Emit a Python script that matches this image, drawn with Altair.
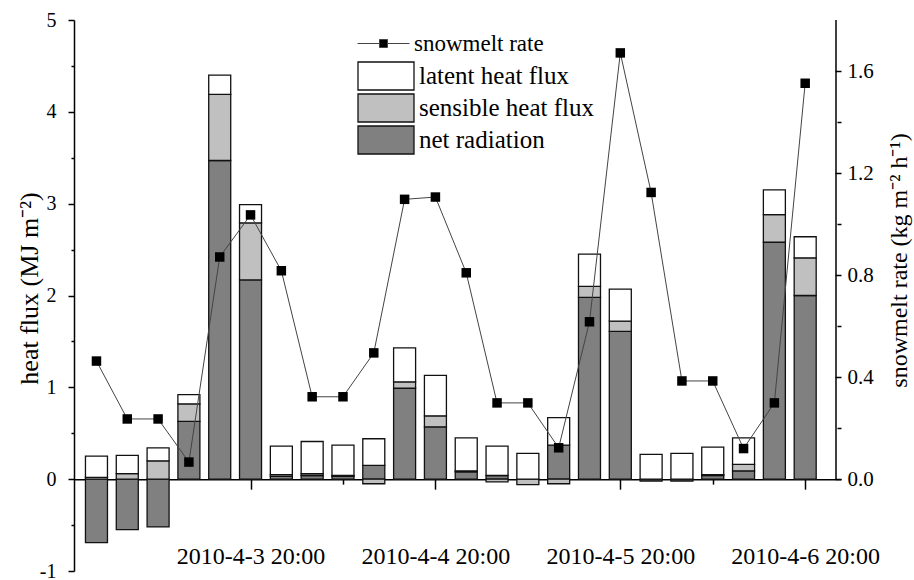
import altair as alt
import pandas as pd

# ---------------- data ----------------
times = list(pd.date_range("2010-04-03 00:00", periods=24, freq="4h").strftime("%Y-%m-%dT%H:%M:00Z"))
net_radiation = [-0.69, -0.55, -0.52, 0.63, 3.47, 2.17, 0.03, 0.04, 0.03, 0.15, 0.99, 0.57,
                 0.08, 0.04, 0.00, 0.37, 1.98, 1.61, -0.02, -0.02, 0.04, 0.09, 2.58, 2.00]
sensible_heat = [0.02, 0.06, 0.20, 0.19, 0.72, 0.62, 0.02, 0.02, 0.01, -0.05, 0.07, 0.12,
                 0.01, -0.03, -0.06, -0.05, 0.12, 0.11, 0.00, 0.00, 0.01, 0.07, 0.30, 0.41]
latent_heat = [0.23, 0.20, 0.14, 0.10, 0.21, 0.20, 0.31, 0.35, 0.33, 0.29, 0.37, 0.44,
               0.36, 0.32, 0.28, 0.30, 0.35, 0.35, 0.27, 0.28, 0.30, 0.29, 0.27, 0.23]
snowmelt_rate = [0.463, 0.236, 0.236, 0.067, 0.871, 1.036, 0.817, 0.323, 0.323, 0.495, 1.097, 1.106,
                 0.809, 0.299, 0.299, 0.123, 0.617, 1.671, 1.124, 0.385, 0.385, 0.120, 0.299, 1.552]

components = ["latent heat flux", "sensible heat flux", "net radiation"]
component_colors = ["#ffffff", "#c0c0c0", "#808080"]
stack_rank = {"net radiation": 0, "sensible heat flux": 1, "latent heat flux": 2}

left_ticks = [-1, 0, 1, 2, 3, 4, 5]
left_minor = [-0.5, 0.5, 1.5, 2.5, 3.5, 4.5]
right_ticks = [0.0, 0.4, 0.8, 1.2, 1.6]
right_minor = [0.2, 0.6, 1.0, 1.4]
L_DOMAIN = [-1, 5]
R_DOMAIN = [-0.36, 1.8]

FONT = "Liberation Serif"
W, H = 767, 551
ZERO_OFFSET = -H * (0 - L_DOMAIN[0]) / (L_DOMAIN[1] - L_DOMAIN[0])

rows = []
for i, t in enumerate(times):
    for name, series in (("net radiation", net_radiation),
                         ("sensible heat flux", sensible_heat),
                         ("latent heat flux", latent_heat)):
        rows.append({"time": t, "component": name, "value": series[i], "ord": stack_rank[name]})
bars_df = pd.DataFrame(rows)
snow_df = pd.DataFrame({"time": times, "snow": snowmelt_rate, "series": "snowmelt rate"})
axis_df = pd.DataFrame({"a": [0]})


def dt(d, h, m=0):
    return alt.DateTime(year=2010, month=4, date=d, hours=h, minutes=m, utc=True)


major_x = [dt(3, 20), dt(4, 20), dt(5, 20), dt(6, 20)]
minor_x = [dt(3, 8), dt(4, 8), dt(5, 8), dt(6, 8)]
xscale = alt.Scale(type="utc", domain=[dt(2, 21, 44), dt(7, 0)])
lscale = alt.Scale(domain=L_DOMAIN, nice=False, zero=False)
rscale = alt.Scale(domain=R_DOMAIN, nice=False, zero=False)

bars = alt.Chart(bars_df).mark_bar(size=22, stroke="#111111", strokeWidth=1.3).encode(
    x=alt.X("time:T", scale=xscale, axis=alt.Axis(
        values=major_x, labelExpr="utcFormat(datum.value, '%Y-%-m-%-d %H:%M')",
        orient="bottom", offset=ZERO_OFFSET, tickSize=10, tickWidth=1.5, tickColor="black",
        domainColor="black", domainWidth=1.5, labelPadding=55, labelFontSize=24,
        labelFont=FONT, labelColor="black", grid=False, title=None, labelFlush=False,
        labelOverlap=False)),
    y=alt.Y("value:Q", stack="zero", scale=lscale, axis=alt.Axis(
        orient="left", values=left_ticks,
        labelExpr="datum.value < 0 ? '-' + abs(datum.value) : '' + datum.value",
        tickSize=6, tickWidth=1.5, tickColor="black", domainColor="black", domainWidth=1.5,
        labelPadding=12, labelFontSize=20, labelFont=FONT, labelColor="black", grid=False,
        title="heat flux (MJ m⁻²)", titleFont=FONT, titleFontSize=26, titleFontWeight="normal",
        titleColor="black", titleAngle=270, titleX=-45, titleY=268, titleAlign="center",
        titleBaseline="middle")),
    fill=alt.Fill("component:N", scale=alt.Scale(domain=components, range=component_colors),
                  legend=alt.Legend(
                      title=None, orient="none", legendX=297, legendY=41, padding=0,
                      symbolType="M-2,-1H2V1H-2Z", symbolSize=784, symbolStrokeColor="#111111",
                      symbolStrokeWidth=1.3, labelFont=FONT, labelFontSize=25, labelColor="black",
                      labelOffset=18, rowPadding=-3, labelLimit=0, symbolOpacity=1)),
    order=alt.Order("ord:Q", sort="ascending"),
)

minor_left = alt.Chart(bars_df).mark_point(opacity=0).encode(
    x=alt.X("time:T", scale=xscale, axis=alt.Axis(
        values=minor_x, orient="bottom", offset=ZERO_OFFSET, tickSize=5, tickWidth=1.5,
        tickColor="black", domain=False, labels=False, grid=False, title=None)),
    y=alt.Y("value:Q", scale=lscale, axis=alt.Axis(
        orient="left", values=left_minor, tickSize=3, tickWidth=1.5, tickColor="black",
        domain=False, labels=False, grid=False, title=None)),
)

line = alt.Chart(snow_df).mark_line(strokeWidth=1).encode(
    x=alt.X("time:T", scale=xscale, axis=None),
    y=alt.Y("snow:Q", scale=rscale, axis=alt.Axis(
        orient="right", values=right_ticks, format=".1f", ticks=False, domain=False,
        labelPadding=6, labelFontSize=21, labelFont=FONT, labelColor="black", grid=False,
        title="snowmelt rate (kg m⁻² h⁻¹)", titleFont=FONT, titleFontSize=24,
        titleFontWeight="normal", titleColor="black", titleAngle=270, titleX=58, titleY=240,
        titleAlign="center", titleBaseline="middle")),
    stroke=alt.Stroke("series:N", scale=alt.Scale(domain=["snowmelt rate"], range=["#444444"]),
                      legend=alt.Legend(
                          title=None, orient="none", legendX=298, legendY=12, padding=0,
                          symbolType="M-6.5,0H-1M1,0H6.5M-1,-1H1V1H-1Z", symbolSize=64,
                          symbolFillColor="black", symbolStrokeColor="#333333",
                          symbolStrokeWidth=1, labelFont=FONT, labelFontSize=23,
                          labelColor="black", labelOffset=19, labelLimit=0)),
)

points = alt.Chart(snow_df).mark_square(size=90, color="black", opacity=1).encode(
    x=alt.X("time:T", scale=xscale, axis=None),
    y=alt.Y("snow:Q", scale=rscale, axis=alt.Axis(
        orient="left", offset=-W, values=right_ticks, tickSize=6, tickWidth=1.5,
        tickColor="black", domain=False, labels=False, grid=False, title=None)),
)

minor_right = alt.Chart(snow_df).mark_point(opacity=0).encode(
    x=alt.X("time:T", scale=xscale, axis=None),
    y=alt.Y("snow:Q", scale=rscale, axis=alt.Axis(
        orient="left", offset=-W, values=right_minor, tickSize=4, tickWidth=1.5,
        tickColor="black", domain=False, labels=False, grid=False, title=None)),
)

right_line = alt.Chart(axis_df).mark_rule(color="black", strokeWidth=1.5).encode(
    x=alt.X(datum=dt(7, 0), type="temporal", scale=xscale, axis=None),
    y=alt.Y(datum=0, type="quantitative", scale=rscale, axis=None),
    y2=alt.Y2(datum=R_DOMAIN[1]),
)

chart = alt.layer(bars, minor_left, line, points, minor_right, right_line).resolve_scale(
    y="independent", stroke="independent", fill="independent"
).resolve_axis(
    x="independent", y="independent"
).resolve_legend(
    fill="independent", stroke="independent"
).properties(
    width=W, height=H,
    autosize=alt.AutoSizeParams(type="none"),
    padding={"left": 74, "top": 20, "right": 73, "bottom": 9},
    background="white",
).configure_view(stroke=None)

chart.save("out.html", embed_options={"renderer": "svg", "actions": False})
